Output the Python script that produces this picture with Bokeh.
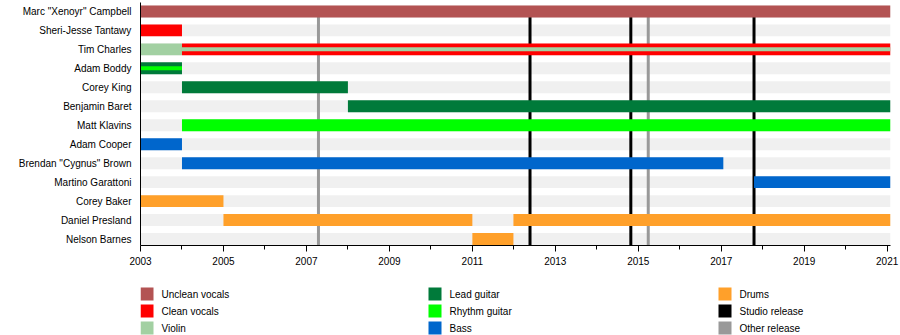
from bokeh.plotting import figure
from bokeh.models import Range1d, FixedTicker, ColumnDataSource
from bokeh.layouts import column
from bokeh.core.properties import value
from bokeh.embed import file_html
from bokeh.resources import INLINE

FONT = "Liberation Sans"

members = ['Marc "Xenoyr" Campbell', "Sheri-Jesse Tantawy", "Tim Charles", "Adam Boddy",
           "Corey King", "Benjamin Baret", "Matt Klavins", "Adam Cooper",
           'Brendan "Cygnus" Brown', "Martino Garattoni", "Corey Baker",
           "Daniel Presland", "Nelson Barnes"]

roles = ["Unclean vocals", "Clean vocals", "Violin", "Lead guitar", "Rhythm guitar",
         "Bass", "Drums", "Studio release", "Other release"]
role_colors = ["#b35353", "#ff0000", "#a2d0a2", "#007a3a", "#00ff00",
               "#0066cc", "#ffa02a", "#000000", "#999999"]

year_start, year_end = 2003, 2021.08

bar_member = ['Marc "Xenoyr" Campbell', "Sheri-Jesse Tantawy", "Tim Charles", "Tim Charles",
              "Adam Boddy", "Corey King", "Benjamin Baret", "Matt Klavins", "Adam Cooper",
              'Brendan "Cygnus" Brown', "Martino Garattoni", "Corey Baker",
              "Daniel Presland", "Daniel Presland", "Nelson Barnes"]
bar_start = [2003, 2003, 2003, 2004, 2003, 2004, 2008, 2004, 2003, 2004, 2017.79,
             2003, 2005, 2011.99, 2011.0]
bar_end = [2021.08, 2004, 2004, 2021.08, 2004, 2008, 2021.08, 2021.08, 2004, 2017.05, 2021.08,
           2005, 2011.0, 2021.08, 2011.99]
bar_role = ["Unclean vocals", "Clean vocals", "Violin", "Clean vocals", "Lead guitar",
            "Lead guitar", "Lead guitar", "Rhythm guitar", "Bass", "Bass", "Bass",
            "Drums", "Drums", "Drums", "Drums"]

stripe_member = ["Tim Charles", "Adam Boddy"]
stripe_start = [2004, 2003]
stripe_end = [2021.08, 2004]
stripe_role = ["Violin", "Rhythm guitar"]

release_year = [2007.29, 2012.39, 2014.82, 2015.24, 2017.79]
release_type = ["Other release", "Studio release", "Studio release", "Other release", "Studio release"]

tick_years = [2003, 2005, 2007, 2009, 2011, 2013, 2015, 2017, 2019, 2021]
minor_years = [2004, 2006, 2008, 2010, 2012, 2014, 2016, 2018, 2020]

color_of = dict(zip(roles, role_colors))
row_of = {m: i for i, m in enumerate(members)}
n = len(members)

BAR_H = 0.63
STRIPE_H = 0.21
LEFT, RIGHT = 140, 10

p = figure(width=900, height=272, output_backend="svg", toolbar_location=None,
           x_range=Range1d(year_start, year_end),
           y_range=Range1d(n - 1 + 0.34, -0.47),
           min_border_left=LEFT, min_border_right=RIGHT, min_border_top=2, min_border_bottom=27)
p.outline_line_color = None
p.xgrid.visible = False
p.ygrid.visible = False

# background rows
p.hbar(y=list(range(n)), left=year_start, right=year_end, height=BAR_H,
       fill_color="#f0f0f0", line_color=None)

# release lines
rel_src = ColumnDataSource(dict(x=release_year, y0=[0] * len(release_year),
                                y1=[n] * len(release_year),
                                c=[color_of[t] for t in release_type]))
p.segment(x0="x", y0="y0", x1="x", y1="y1", color="c", line_width=3, source=rel_src)

# member bars
bar_src = ColumnDataSource(dict(y=[row_of[m] for m in bar_member], left=bar_start,
                                right=bar_end, c=[color_of[r] for r in bar_role]))
p.hbar(y="y", left="left", right="right", height=BAR_H, fill_color="c",
       line_color=None, source=bar_src)

stripe_src = ColumnDataSource(dict(y=[row_of[m] for m in stripe_member], left=stripe_start,
                                   right=stripe_end, c=[color_of[r] for r in stripe_role]))
p.hbar(y="y", left="left", right="right", height=STRIPE_H, fill_color="c",
       line_color=None, source=stripe_src)

# axes
p.yaxis.ticker = FixedTicker(ticks=list(range(n)))
p.yaxis.major_label_overrides = {i: m for i, m in enumerate(members)}
p.yaxis.major_tick_out = 0
p.yaxis.major_tick_in = 0
p.yaxis.minor_tick_out = 0
p.yaxis.major_label_standoff = 9
p.yaxis.axis_line_color = "black"
p.yaxis.major_label_text_font = FONT
p.yaxis.major_label_text_font_size = "10px"
p.yaxis.major_label_text_color = "black"

p.xaxis.ticker = FixedTicker(ticks=tick_years, minor_ticks=minor_years)
p.xaxis.major_label_overrides = {y: str(y) for y in tick_years}
p.xaxis.major_tick_out = 6
p.xaxis.major_tick_in = 0
p.xaxis.minor_tick_out = 4
p.xaxis.minor_tick_in = 0
p.xaxis.major_label_standoff = 5
p.xaxis.axis_line_color = "black"
p.xaxis.major_tick_line_color = "black"
p.xaxis.minor_tick_line_color = "black"
p.xaxis.major_label_text_font = FONT
p.xaxis.major_label_text_font_size = "10px"
p.xaxis.major_label_text_color = "black"

# legend figure: its frame is aligned with the main frame; data units = page pixels
LW, LH = 900, 63
lg = figure(width=LW, height=LH, output_backend="svg", toolbar_location=None,
            x_range=Range1d(LEFT, LW - RIGHT), y_range=Range1d(LH, 0),
            min_border_left=LEFT, min_border_right=RIGHT, min_border_top=0, min_border_bottom=0)
lg.outline_line_color = None
lg.axis.visible = False
lg.grid.visible = False

COL_X = [140, 428, 718]
ROW_Y0, ROW_DY = 15, 17
SW = 13
sx, sy, tx, ty = [], [], [], []
for i, r in enumerate(roles):
    c, rr = divmod(i, 3)
    x = COL_X[c]
    y = ROW_Y0 + rr * ROW_DY
    sx.append(x + SW / 2)
    sy.append(y + SW / 2)
    tx.append(x + 21)
    ty.append(y + SW / 2)
lg.rect(x=sx, y=sy, width=SW, height=SW, fill_color=role_colors, line_color=None)
lg.text(x=tx, y=ty, text=roles, text_font=value(FONT), text_font_size="10px",
        text_baseline="middle", text_align="left", text_color="black")

layout = column(p, lg, spacing=0)
open("out.html", "w").write(file_html(layout, INLINE))
